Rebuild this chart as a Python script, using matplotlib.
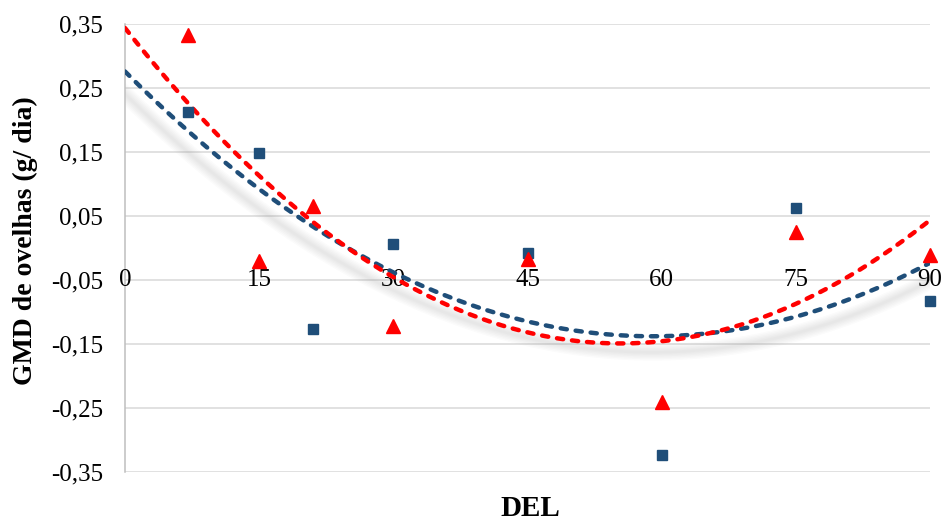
import numpy as np
import matplotlib.pyplot as plt

# days in lactation and daily gain of ewes, two groups
del_days = [7, 15, 21, 30, 45, 60, 75, 90]
gmd_blue = [0.213, 0.148, -0.127, 0.006, -0.008, -0.323, 0.062, -0.083]
gmd_red = [0.333, -0.020, 0.066, -0.122, -0.017, -0.240, 0.025, -0.011]

x_ticks = [0, 15, 30, 45, 60, 75, 90]
y_ticks = [0.35, 0.25, 0.15, 0.05, -0.05, -0.15, -0.25, -0.35]

blue = "#1F4E79"
red = "#FF0000"

plt.rcParams["font.family"] = ["Liberation Serif", "DejaVu Serif"]

fig = plt.figure(figsize=(9.46, 5.23), dpi=100)
ax = fig.add_axes([125 / 946, 1 - 472 / 523, 805 / 946, 448 / 523])
ax.set_xlim(0, 90)
ax.set_ylim(-0.35, 0.35)

# horizontal grid
ax.set_yticks(y_ticks)
ax.set_yticklabels([f"{v:.2f}".replace(".", ",") for v in y_ticks], fontsize=18)
ax.tick_params(axis="y", length=0, pad=16)
ax.yaxis.grid(True, color="#D9D9D9", linewidth=1.1)
ax.set_axisbelow(True)
for s in ["top", "right", "bottom"]:
    ax.spines[s].set_visible(False)
ax.spines["left"].set_color("#BFBFBF")
ax.spines["left"].set_linewidth(1.1)

# x labels sit on the -0,05 line
ax.set_xticks([])
for t in x_ticks:
    ax.text(t, -0.05, str(t), ha="center", va="center", fontsize=18)

# 2nd order trendlines
xs = np.linspace(0, 90, 300)
fit_blue = np.polyval(np.polyfit(del_days, gmd_blue, 2), xs)
fit_red = np.polyval(np.polyfit(del_days, gmd_red, 2), xs)

# soft shadow under the blue trendline, offset along the normal in pixel space
fig.canvas.draw()
pts = ax.transData.transform(np.column_stack([xs, fit_blue]))
d = np.gradient(pts, axis=0)
n = np.column_stack([d[:, 1], -d[:, 0]])
n /= np.linalg.norm(n, axis=1)[:, None]
n[n[:, 1] > 0] *= -1
shadow = ax.transData.inverted().transform(pts + n * 16)
for lw in [12, 10, 8, 6, 4, 2]:
    ax.plot(shadow[:, 0], shadow[:, 1], color="#909090", lw=lw, alpha=0.035,
            solid_capstyle="round", zorder=1)

ax.plot(xs, fit_blue, color=blue, lw=3.2, dashes=(1.4, 2.0),
        dash_capstyle="round", zorder=3)
ax.plot(xs, fit_red, color=red, lw=3.2, dashes=(1.4, 2.0),
        dash_capstyle="round", zorder=3)

ax.plot(del_days, gmd_blue, "s", color=blue, markersize=6.5, zorder=4, clip_on=False)
ax.plot(del_days, gmd_red, "^", color=red, markersize=10, zorder=4, clip_on=False)

fig.text(25 / 946, 1 - 241 / 523, "GMD de ovelhas (g/ dia)", rotation=90,
         ha="center", va="center", fontsize=20, fontweight="bold")
fig.text(530 / 946, 1 - 508 / 523, "DEL", ha="center", va="center",
         fontsize=21, fontweight="bold")

fig.savefig("out.png", dpi=100)
